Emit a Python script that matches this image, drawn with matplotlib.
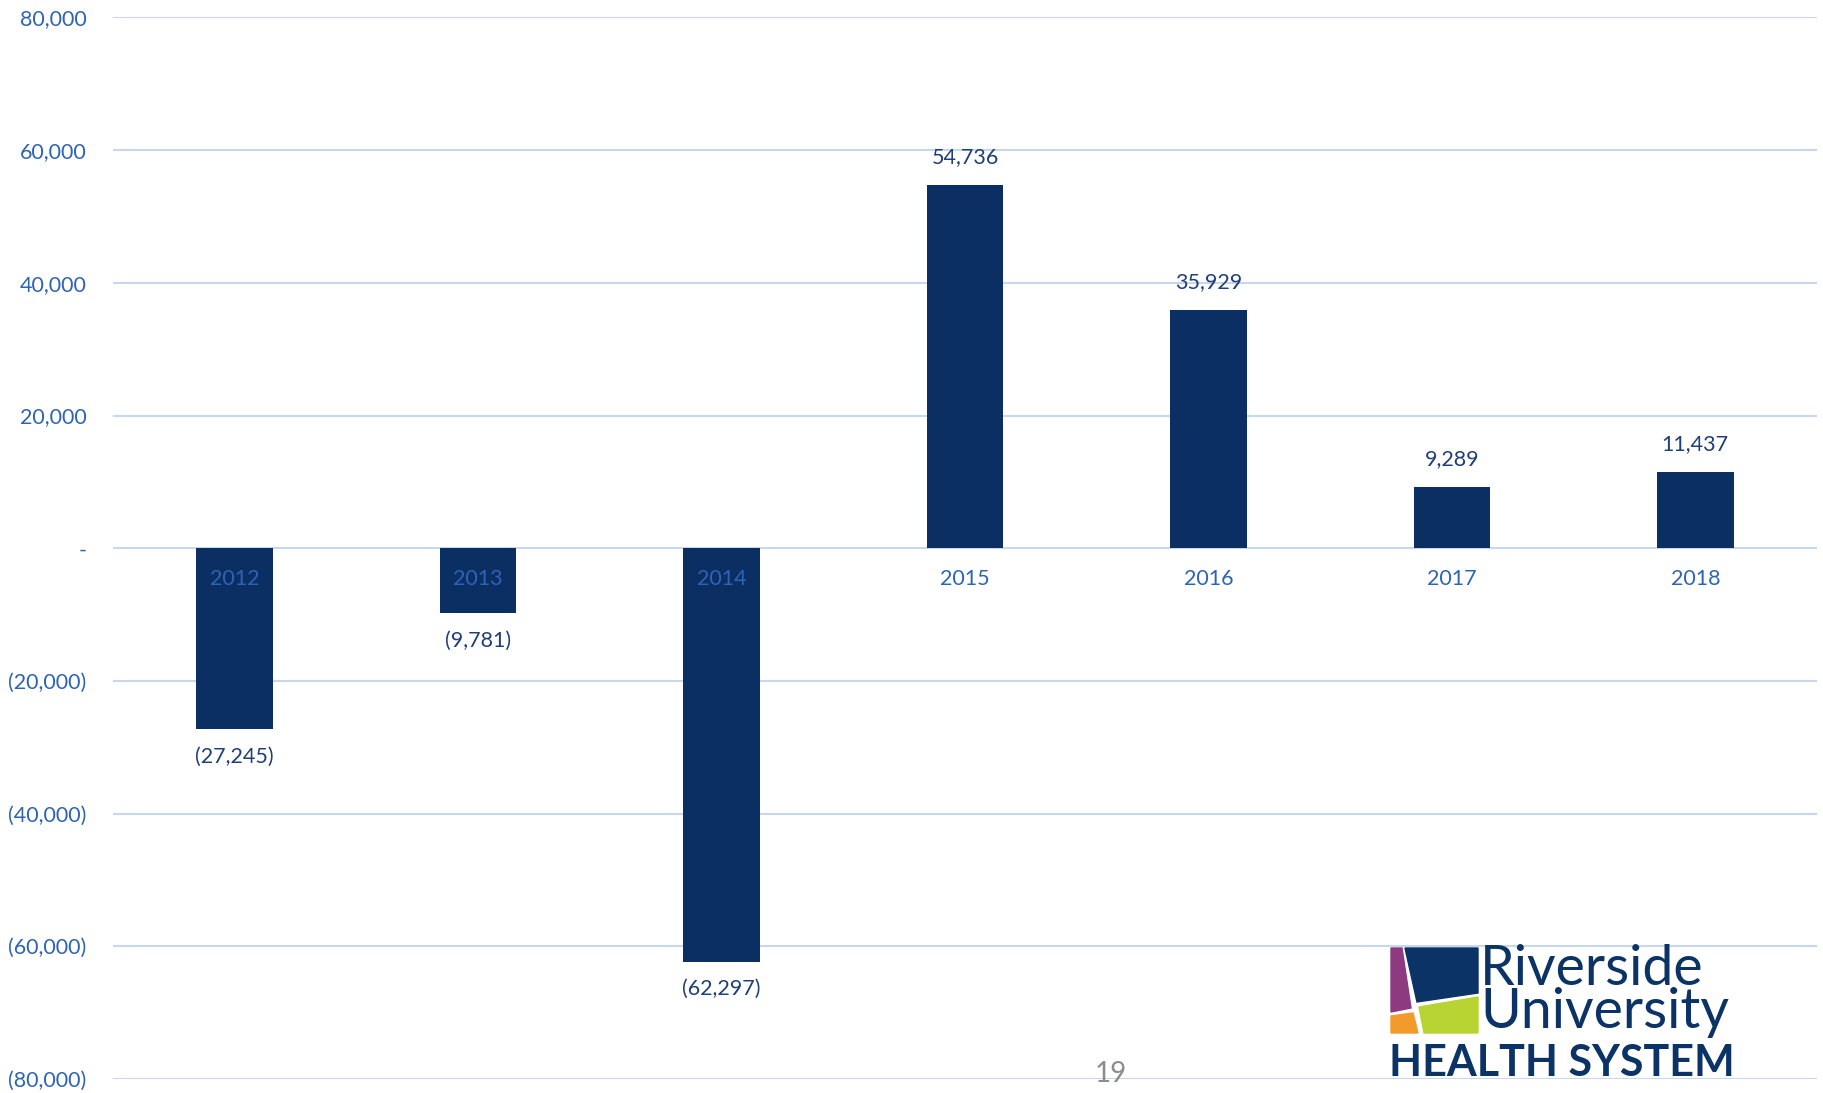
import matplotlib
matplotlib.use('Agg')
import matplotlib.pyplot as plt
from matplotlib.patches import Polygon
from matplotlib.ticker import FuncFormatter

years = ['2012', '2013', '2014', '2015', '2016', '2017', '2018']
values = [-27245, -9781, -62297, 54736, 35929, 9289, 11437]
y_ticks = [-80000, -60000, -40000, -20000, 0, 20000, 40000, 60000, 80000]

W, H = 1823, 1093
BAR = '#0B2F63'
TICK = '#2E64B4'
LABEL = '#1F3F78'
GRID = '#C9D7EE'

plt.rcParams['font.family'] = ['Lato', 'DejaVu Sans']

fig = plt.figure(figsize=(W / 100, H / 100), dpi=100)
ax = fig.add_axes([113 / W, 14 / H, 1704 / W, 1061.6 / H])


def fmt(v, pos=None):
    if v == 0:
        return '-'
    if v < 0:
        return '({:,.0f})'.format(-v)
    return '{:,.0f}'.format(v)


x = range(len(years))
ax.bar(x, values, width=0.315, color=BAR, zorder=1)

for i, v in enumerate(values):
    off = 20 if v > 0 else -20
    ax.annotate(fmt(v), (i, v), xytext=(0, off), textcoords='offset points',
                ha='center', va='center', fontsize=15.5, color=LABEL)

ax.set_xlim(-0.5, 6.5)
ax.set_ylim(-80000, 80000)
ax.set_yticks(y_ticks)
ax.yaxis.set_major_formatter(FuncFormatter(fmt))
ax.set_xticks(list(x))
ax.set_xticklabels(years)

ax.grid(axis='y', color=GRID, linewidth=1.5)
ax.yaxis.set_zorder(0.5)
ax.xaxis.set_zorder(2)
ax.spines['bottom'].set_position(('data', 0))
for s in ax.spines.values():
    s.set_visible(False)
ax.tick_params(axis='y', length=0, pad=19, labelsize=15.5, labelcolor=TICK)
ax.tick_params(axis='x', length=0, pad=15, labelsize=15.5, labelcolor=TICK)

# page number
fig.text(1111 / W, 1 - 1074 / H, '19', ha='center', va='center',
         fontsize=20, color='#8C8C8C')

# logo
lx0, ly0, lx1, ly1 = 1385, 940, 1765, 1085
lax = fig.add_axes([lx0 / W, 1 - ly1 / H, (lx1 - lx0) / W, (ly1 - ly0) / H])
lax.set_xlim(lx0, lx1)
lax.set_ylim(ly1, ly0)
lax.axis('off')
navy = '#0B3365'
lax.add_patch(Polygon([(1405, 948), (1478, 948), (1478, 993), (1417, 1002)], color=navy))
lax.add_patch(Polygon([(1391, 948), (1402, 948), (1411, 1008), (1391, 1012)], color='#8E3A80'))
lax.add_patch(Polygon([(1391, 1016), (1413, 1013), (1418, 1033), (1391, 1033)], color='#F39A2D'))
lax.add_patch(Polygon([(1419, 1007), (1478, 997), (1478, 1033), (1424, 1033)], color='#B8D432'))
lax.text(1480, 991, 'Riverside\nUniversity', fontsize=40, color=navy,
         va='center', ha='left', linespacing=0.8)
lax.text(1389, 1063, 'HEALTH SYSTEM', fontsize=31, color=navy, va='center',
         ha='left', fontweight='bold')

fig.savefig('out.png', dpi=100)
